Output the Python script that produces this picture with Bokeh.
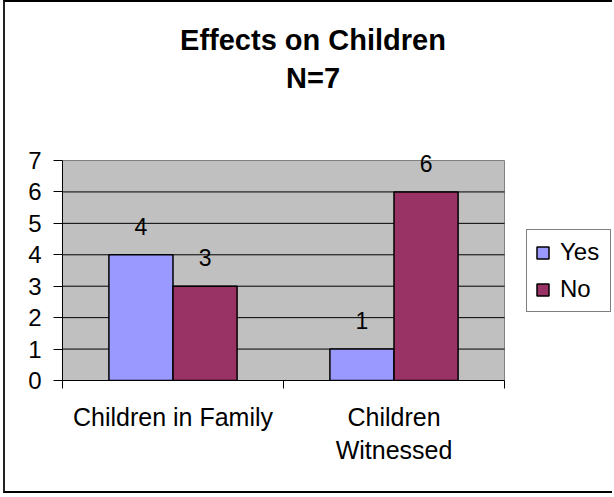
from bokeh.plotting import figure
from bokeh.models import (Range1d, FixedTicker, ColumnDataSource, LabelSet, Label,
                          Legend, LegendItem)
from bokeh.core.properties import value
from bokeh.embed import file_html
from bokeh.resources import INLINE

# ---- data ----
categories = ["Children in Family", "Children\nWitnessed"]
series = ["Yes", "No"]
yes_values = [4, 1]
no_values = [3, 6]
y_ticks = [0, 1, 2, 3, 4, 5, 6, 7]
title_lines = ["Effects on Children", "N=7"]
colors = ["#9999FF", "#993366"]

FONT = "Liberation Sans"
bar_w = 0.29

# ---- layout plan (pixels) ----
W, H = 609, 493            # canvas size (plus 3px margin, 2px CSS border)
LEFT, BOTTOM = 57, 115     # frame left / bottom border
PX_X = 221.0               # pixels per category
PX_Y = 220.0 / max(y_ticks)  # pixels per unit value
x_end = (W - LEFT) / PX_X
y_end = (H - BOTTOM) / PX_Y
ncat = len(categories)
ymax = max(y_ticks)

p = figure(width=W, height=H, output_backend="svg", toolbar_location=None,
           title=None,
           x_range=Range1d(0, x_end), y_range=Range1d(0, y_end),
           min_border_left=LEFT, min_border_right=0, min_border_top=0,
           min_border_bottom=BOTTOM)
p.background_fill_color = "white"
p.border_fill_color = "white"
p.outline_line_color = None
p.styles = {"margin-left": "3px",
            "border-left": "2px solid #222222", "border-top": "2px solid black",
            "border-bottom": "2px solid black"}

# plot area background
bg = p.quad(left=[0], right=[ncat], bottom=[0], top=[ymax],
            fill_color="#C0C0C0", line_color="#808080", line_width=1)
bg.level = "image"

# horizontal grid lines inside the plot area only
grid_y = y_ticks[1:-1]
p.segment(x0=[0] * len(grid_y), x1=[ncat] * len(grid_y), y0=grid_y, y1=grid_y,
          line_color="black", line_width=1)

centers = [i + 0.5 for i in range(ncat)]
src = ColumnDataSource(dict(
    x_yes=[c - bar_w / 2 for c in centers],
    x_no=[c + bar_w / 2 for c in centers],
    yes=yes_values, no=no_values,
    yes_t=[str(v) for v in yes_values], no_t=[str(v) for v in no_values],
))

r_yes = p.vbar(x="x_yes", top="yes", width=bar_w, bottom=0, source=src,
               fill_color=colors[0], line_color="black", line_width=1.5)
r_no = p.vbar(x="x_no", top="no", width=bar_w, bottom=0, source=src,
              fill_color=colors[1], line_color="black", line_width=1.5)

for xcol, ycol, tcol in [("x_yes", "yes", "yes_t"), ("x_no", "no", "no_t")]:
    ls = LabelSet(x=xcol, y=ycol, text=tcol, source=src, y_offset=20,
                  text_align="center", text_baseline="alphabetic",
                  text_font=value(FONT), text_font_size="23px", text_color="black")
    p.add_layout(ls)

p.xgrid.visible = False
p.ygrid.visible = False

# y axis
p.yaxis.ticker = FixedTicker(ticks=y_ticks)
p.yaxis.bounds = (0, ymax)
p.yaxis.axis_line_color = "black"
p.yaxis.major_tick_line_color = "black"
p.yaxis.major_tick_out = 9
p.yaxis.major_tick_in = 0
p.yaxis.minor_tick_line_color = None
p.yaxis.major_label_standoff = 12
p.yaxis.major_label_text_font = FONT
p.yaxis.major_label_text_font_size = "24px"
p.yaxis.major_label_text_color = "black"

# x axis: labels at category centres, tick marks at category boundaries
p.xaxis.ticker = FixedTicker(ticks=centers, minor_ticks=list(range(ncat + 1)))
p.xaxis.bounds = (0, ncat)
p.xaxis.major_label_overrides = {c: lab for c, lab in zip(centers, categories)}
p.xaxis.axis_line_color = "black"
p.xaxis.major_tick_out = 0
p.xaxis.major_tick_in = 0
p.xaxis.minor_tick_line_color = "black"
p.xaxis.minor_tick_out = 8
p.xaxis.minor_tick_in = 0
p.xaxis.major_label_standoff = 14
p.xaxis.major_label_text_font = FONT
p.xaxis.major_label_text_font_size = "25px"
p.xaxis.major_label_text_color = "black"
p.xaxis.major_label_text_line_height = 1.18

# title as two lines
title_x = (312.5 - 62) / PX_X
for base_px, txt in zip([39, 77], title_lines):
    p.add_layout(Label(x=title_x, y=(380 - base_px) / PX_Y, text=txt,
                       text_align="center", text_baseline="alphabetic",
                       text_font=FONT, text_font_size="29px",
                       text_font_style="bold", text_color="black"))

legend = Legend(items=[LegendItem(label=series[0], renderers=[r_yes]),
                       LegendItem(label=series[1], renderers=[r_no])],
                location=(464, 68), orientation="vertical",
                glyph_width=15, glyph_height=15, label_standoff=10,
                label_width=42, padding=8, spacing=9, margin=0,
                border_line_color="black", border_line_width=1,
                background_fill_color="white", background_fill_alpha=1,
                label_text_font=FONT, label_text_font_size="24px",
                label_text_color="black")
p.add_layout(legend, "center")

open("out.html", "w").write(file_html(p, INLINE))
